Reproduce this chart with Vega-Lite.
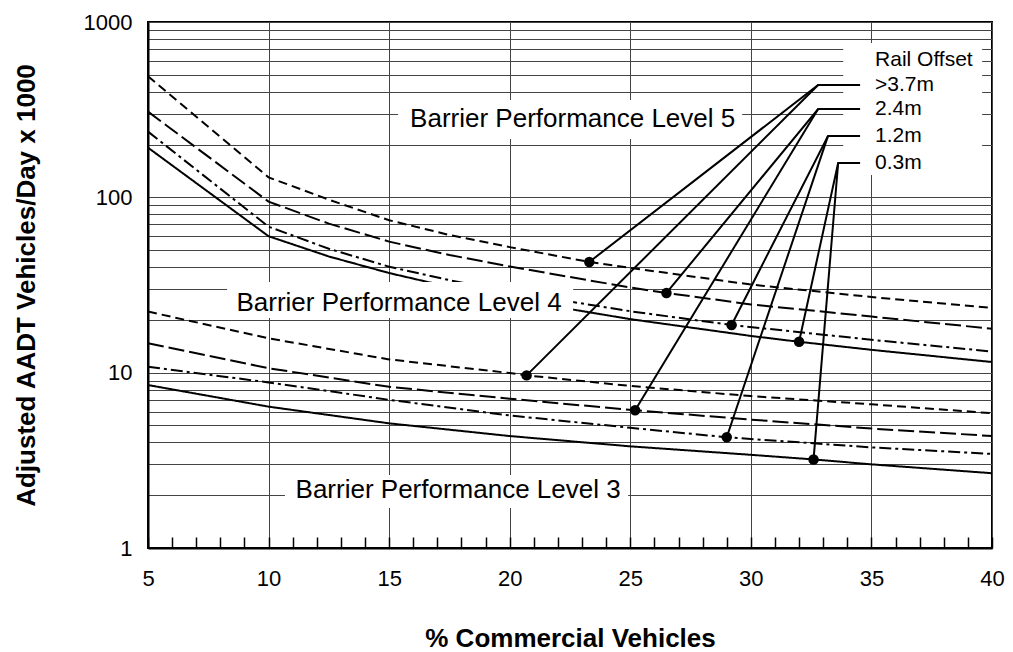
{
  "$schema": "https://vega.github.io/schema/vega-lite/v6.json",
  "width": 844,
  "height": 526,
  "autosize": {"type": "none"},
  "padding": {"left": 148, "top": 22, "right": 21, "bottom": 104},
  "background": "white",
  "config": {
    "font": "Liberation Sans",
    "view": {"stroke": "black", "strokeWidth": 2},
    "axis": {
      "domainColor": "black",
      "domainWidth": 2,
      "labelColor": "black",
      "labelFont": "Liberation Sans",
      "labelFontSize": 22,
      "labelFlush": false,
      "labelOverlap": false,
      "labelBound": false,
      "titleColor": "black",
      "titleFont": "Liberation Sans",
      "titleFontSize": 26,
      "titleFontWeight": "bold",
      "gridColor": "#444444",
      "gridWidth": 1
    }
  },
  "datasets": {
    "curves": [
      {"series": "L5 >3.7m", "offset": ">3.7m", "x": 5, "y": 490},
      {"series": "L5 >3.7m", "offset": ">3.7m", "x": 10, "y": 130},
      {"series": "L5 >3.7m", "offset": ">3.7m", "x": 12.5, "y": 97},
      {"series": "L5 >3.7m", "offset": ">3.7m", "x": 15, "y": 74},
      {"series": "L5 >3.7m", "offset": ">3.7m", "x": 17.5, "y": 61},
      {"series": "L5 >3.7m", "offset": ">3.7m", "x": 20, "y": 52},
      {"series": "L5 >3.7m", "offset": ">3.7m", "x": 23.3, "y": 42.8},
      {"series": "L5 >3.7m", "offset": ">3.7m", "x": 25, "y": 39.6},
      {"series": "L5 >3.7m", "offset": ">3.7m", "x": 30, "y": 31.8},
      {"series": "L5 >3.7m", "offset": ">3.7m", "x": 35, "y": 27},
      {"series": "L5 >3.7m", "offset": ">3.7m", "x": 40, "y": 23.4},
      {"series": "L5 2.4m", "offset": "2.4m", "x": 5, "y": 308},
      {"series": "L5 2.4m", "offset": "2.4m", "x": 10, "y": 94.5},
      {"series": "L5 2.4m", "offset": "2.4m", "x": 12.5, "y": 70.8},
      {"series": "L5 2.4m", "offset": "2.4m", "x": 15, "y": 55.9},
      {"series": "L5 2.4m", "offset": "2.4m", "x": 17.5, "y": 46.9},
      {"series": "L5 2.4m", "offset": "2.4m", "x": 20, "y": 40.3},
      {"series": "L5 2.4m", "offset": "2.4m", "x": 25, "y": 30.6},
      {"series": "L5 2.4m", "offset": "2.4m", "x": 26.5, "y": 28.5},
      {"series": "L5 2.4m", "offset": "2.4m", "x": 30, "y": 24.5},
      {"series": "L5 2.4m", "offset": "2.4m", "x": 35, "y": 20.9},
      {"series": "L5 2.4m", "offset": "2.4m", "x": 40, "y": 17.8},
      {"series": "L5 1.2m", "offset": "1.2m", "x": 5, "y": 237},
      {"series": "L5 1.2m", "offset": "1.2m", "x": 10, "y": 68},
      {"series": "L5 1.2m", "offset": "1.2m", "x": 12.5, "y": 50.9},
      {"series": "L5 1.2m", "offset": "1.2m", "x": 15, "y": 40.2},
      {"series": "L5 1.2m", "offset": "1.2m", "x": 17.5, "y": 33.7},
      {"series": "L5 1.2m", "offset": "1.2m", "x": 20, "y": 28.9},
      {"series": "L5 1.2m", "offset": "1.2m", "x": 25, "y": 22.4},
      {"series": "L5 1.2m", "offset": "1.2m", "x": 29.2, "y": 18.7},
      {"series": "L5 1.2m", "offset": "1.2m", "x": 35, "y": 15.4},
      {"series": "L5 1.2m", "offset": "1.2m", "x": 40, "y": 13.2},
      {"series": "L5 0.3m", "offset": "0.3m", "x": 5, "y": 192},
      {"series": "L5 0.3m", "offset": "0.3m", "x": 10, "y": 60},
      {"series": "L5 0.3m", "offset": "0.3m", "x": 12.5, "y": 46},
      {"series": "L5 0.3m", "offset": "0.3m", "x": 15, "y": 37},
      {"series": "L5 0.3m", "offset": "0.3m", "x": 17.5, "y": 30.8},
      {"series": "L5 0.3m", "offset": "0.3m", "x": 20, "y": 26.3},
      {"series": "L5 0.3m", "offset": "0.3m", "x": 25, "y": 20.2},
      {"series": "L5 0.3m", "offset": "0.3m", "x": 30, "y": 16.2},
      {"series": "L5 0.3m", "offset": "0.3m", "x": 32, "y": 15.0},
      {"series": "L5 0.3m", "offset": "0.3m", "x": 35, "y": 13.5},
      {"series": "L5 0.3m", "offset": "0.3m", "x": 40, "y": 11.5},
      {"series": "L4 >3.7m", "offset": ">3.7m", "x": 5, "y": 22.3},
      {"series": "L4 >3.7m", "offset": ">3.7m", "x": 10, "y": 15.7},
      {"series": "L4 >3.7m", "offset": ">3.7m", "x": 15, "y": 11.9},
      {"series": "L4 >3.7m", "offset": ">3.7m", "x": 20, "y": 9.95},
      {"series": "L4 >3.7m", "offset": ">3.7m", "x": 20.7, "y": 9.65},
      {"series": "L4 >3.7m", "offset": ">3.7m", "x": 25, "y": 8.4},
      {"series": "L4 >3.7m", "offset": ">3.7m", "x": 30, "y": 7.35},
      {"series": "L4 >3.7m", "offset": ">3.7m", "x": 35, "y": 6.6},
      {"series": "L4 >3.7m", "offset": ">3.7m", "x": 40, "y": 5.87},
      {"series": "L4 2.4m", "offset": "2.4m", "x": 5, "y": 14.7},
      {"series": "L4 2.4m", "offset": "2.4m", "x": 10, "y": 10.6},
      {"series": "L4 2.4m", "offset": "2.4m", "x": 15, "y": 8.3},
      {"series": "L4 2.4m", "offset": "2.4m", "x": 20, "y": 7.1},
      {"series": "L4 2.4m", "offset": "2.4m", "x": 25.2, "y": 6.1},
      {"series": "L4 2.4m", "offset": "2.4m", "x": 30, "y": 5.4},
      {"series": "L4 2.4m", "offset": "2.4m", "x": 35, "y": 4.8},
      {"series": "L4 2.4m", "offset": "2.4m", "x": 40, "y": 4.35},
      {"series": "L4 1.2m", "offset": "1.2m", "x": 5, "y": 10.8},
      {"series": "L4 1.2m", "offset": "1.2m", "x": 10, "y": 8.8},
      {"series": "L4 1.2m", "offset": "1.2m", "x": 15, "y": 7.0},
      {"series": "L4 1.2m", "offset": "1.2m", "x": 20, "y": 5.7},
      {"series": "L4 1.2m", "offset": "1.2m", "x": 25, "y": 4.85},
      {"series": "L4 1.2m", "offset": "1.2m", "x": 29.0, "y": 4.28},
      {"series": "L4 1.2m", "offset": "1.2m", "x": 35, "y": 3.75},
      {"series": "L4 1.2m", "offset": "1.2m", "x": 40, "y": 3.44},
      {"series": "L4 0.3m", "offset": "0.3m", "x": 5, "y": 8.5},
      {"series": "L4 0.3m", "offset": "0.3m", "x": 10, "y": 6.4},
      {"series": "L4 0.3m", "offset": "0.3m", "x": 15, "y": 5.14},
      {"series": "L4 0.3m", "offset": "0.3m", "x": 20, "y": 4.35},
      {"series": "L4 0.3m", "offset": "0.3m", "x": 25, "y": 3.8},
      {"series": "L4 0.3m", "offset": "0.3m", "x": 30, "y": 3.4},
      {"series": "L4 0.3m", "offset": "0.3m", "x": 32.6, "y": 3.2},
      {"series": "L4 0.3m", "offset": "0.3m", "x": 35, "y": 3.0},
      {"series": "L4 0.3m", "offset": "0.3m", "x": 40, "y": 2.67}
    ],
    "boxes": [
      {"x": 15.37, "x2": 29.64, "y": 359, "y2": 215},
      {"x": 8.28, "x2": 22.63, "y": 32.9, "y2": 20.5},
      {"x": 10.68, "x2": 24.91, "y": 2.61, "y2": 1.69},
      {"x": 33.83, "x2": 39.59, "y": 760, "y2": 134}
    ],
    "levels": [
      {"text": "Barrier Performance Level 5", "x": 22.61, "y": 278},
      {"text": "Barrier Performance Level 4", "x": 15.41, "y": 25.0},
      {"text": "Barrier Performance Level 3", "x": 17.86, "y": 2.14}
    ],
    "legendText": [
      {"text": "Rail Offset", "x": 35.15, "y": 608},
      {"text": ">3.7m", "x": 35.15, "y": 437},
      {"text": "2.4m", "x": 35.15, "y": 319},
      {"text": "1.2m", "x": 35.15, "y": 224},
      {"text": "0.3m", "x": 35.15, "y": 157}
    ],
    "leaders": [
      {"id": "a1", "seq": 1, "x": 23.3, "y": 42.8},
      {"id": "a1", "seq": 2, "x": 32.79, "y": 437},
      {"id": "a1", "seq": 3, "x": 34.53, "y": 437},
      {"id": "a2", "seq": 1, "x": 20.7, "y": 9.65},
      {"id": "a2", "seq": 2, "x": 32.79, "y": 437},
      {"id": "b1", "seq": 1, "x": 26.5, "y": 28.5},
      {"id": "b1", "seq": 2, "x": 32.79, "y": 319},
      {"id": "b1", "seq": 3, "x": 34.53, "y": 319},
      {"id": "b2", "seq": 1, "x": 25.2, "y": 6.1},
      {"id": "b2", "seq": 2, "x": 32.79, "y": 319},
      {"id": "c1", "seq": 1, "x": 29.2, "y": 18.7},
      {"id": "c1", "seq": 2, "x": 33.2, "y": 224},
      {"id": "c1", "seq": 3, "x": 34.53, "y": 224},
      {"id": "c2", "seq": 1, "x": 29.0, "y": 4.28},
      {"id": "c2", "seq": 2, "x": 33.2, "y": 224},
      {"id": "d1", "seq": 1, "x": 32.0, "y": 15.0},
      {"id": "d1", "seq": 2, "x": 33.62, "y": 157},
      {"id": "d1", "seq": 3, "x": 34.53, "y": 157},
      {"id": "d2", "seq": 1, "x": 32.6, "y": 3.2},
      {"id": "d2", "seq": 2, "x": 33.62, "y": 157}
    ],
    "dots": [
      {"x": 23.3, "y": 42.8},
      {"x": 20.7, "y": 9.65},
      {"x": 26.5, "y": 28.5},
      {"x": 25.2, "y": 6.1},
      {"x": 29.2, "y": 18.7},
      {"x": 29.0, "y": 4.28},
      {"x": 32.0, "y": 15.0},
      {"x": 32.6, "y": 3.2}
    ]
  },
  "encoding": {
    "x": {
      "field": "x",
      "type": "quantitative",
      "scale": {"domain": [5, 40], "nice": false, "zero": false},
      "axis": {
        "values": [5, 6, 7, 8, 9, 10, 11, 12, 13, 14, 15, 16, 17, 18, 19, 20, 21, 22, 23, 24, 25, 26, 27, 28, 29, 30, 31, 32, 33, 34, 35, 36, 37, 38, 39, 40],
        "labelExpr": "datum.value % 5 == 0 ? datum.label : ''",
        "grid": true,
        "gridOpacity": {"condition": {"test": "datum.value % 5 == 0", "value": 1}, "value": 0},
        "ticks": true,
        "tickSize": -11,
        "tickColor": "black",
        "tickWidth": 1.5,
        "labelPadding": 31,
        "title": "% Commercial Vehicles",
        "titlePadding": 36
      }
    },
    "y": {
      "field": "y",
      "type": "quantitative",
      "scale": {"type": "log", "domain": [1, 1000], "nice": false},
      "axis": {
        "values": [1, 2, 3, 4, 5, 6, 7, 8, 9, 10, 20, 30, 40, 50, 60, 70, 80, 90, 100, 200, 300, 400, 500, 600, 700, 800, 900, 1000],
        "format": "d",
        "labelExpr": "(datum.value == 1 || datum.value == 10 || datum.value == 100 || datum.value == 1000) ? datum.label : ''",
        "grid": true,
        "ticks": false,
        "labelPadding": 16,
        "title": "Adjusted AADT Vehicles/Day x 1000",
        "titlePadding": 44
      }
    }
  },
  "layer": [
    {
      "data": {"name": "curves"},
      "mark": {"type": "line", "color": "black", "strokeWidth": 2},
      "encoding": {
        "detail": {"field": "series"},
        "strokeDash": {
          "field": "offset",
          "type": "nominal",
          "scale": {"domain": [">3.7m", "2.4m", "1.2m", "0.3m"], "range": [[9, 5], [16, 5], [12, 4, 3, 4], [1, 0]]},
          "legend": null
        }
      }
    },
    {
      "data": {"name": "boxes"},
      "mark": {"type": "rect", "fill": "white", "strokeWidth": 0},
      "encoding": {
        "x2": {"field": "x2"},
        "y2": {"field": "y2"}
      }
    },
    {
      "data": {"name": "levels"},
      "mark": {"type": "text", "fontSize": 26, "align": "center", "baseline": "middle", "color": "black", "font": "Liberation Sans"},
      "encoding": {
        "text": {"field": "text"}
      }
    },
    {
      "data": {"name": "legendText"},
      "mark": {"type": "text", "fontSize": 21, "align": "left", "baseline": "middle", "color": "black", "font": "Liberation Sans"},
      "encoding": {
        "text": {"field": "text"}
      }
    },
    {
      "data": {"name": "leaders"},
      "mark": {"type": "line", "color": "black", "strokeWidth": 2},
      "encoding": {
        "detail": {"field": "id"},
        "order": {"field": "seq", "type": "quantitative"}
      }
    },
    {
      "data": {"name": "dots"},
      "mark": {"type": "point", "filled": true, "color": "black", "opacity": 1, "size": 110}
    }
  ]
}
